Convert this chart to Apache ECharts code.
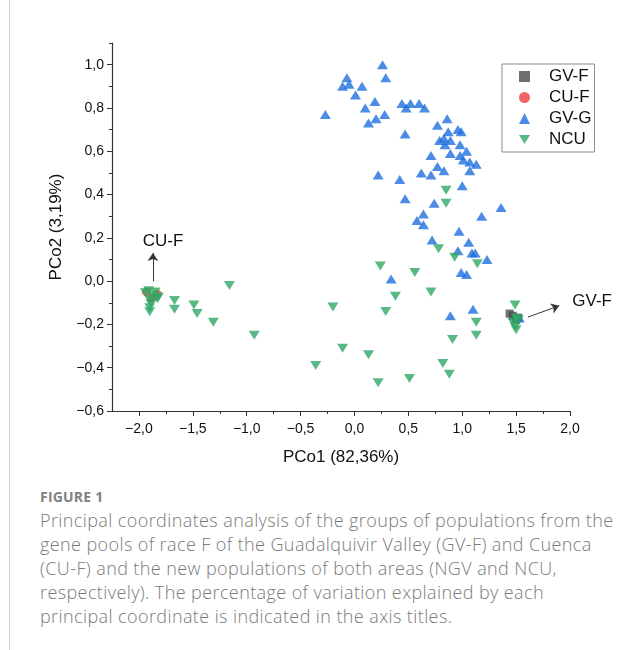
<!DOCTYPE html>
<html>
<head>
<meta charset="utf-8">
<script src="https://cdn.jsdelivr.net/npm/echarts@6/dist/echarts.min.js"></script>
<style>
  html, body { margin: 0; padding: 0; background: #fff; }
  #page { position: relative; width: 644px; height: 650px; overflow: hidden; }
  #edge { position: absolute; left: 9px; top: 0; width: 1px; height: 650px; background: #cfcfcf; }
  #chart { position: absolute; left: 0; top: 0; width: 644px; height: 480px; }
  #figlabel { position: absolute; left: 40px; top: 487px; font: bold 14px "Open Sans", sans-serif; color: #808080; letter-spacing: 0.2px; }
  #caption { position: absolute; left: 40px; top: 508px; font: 300 18px "Open Sans", sans-serif; line-height: 24px; color: #7a7a7a; white-space: nowrap; letter-spacing: 0.4px; }
</style>
</head>
<body>
<div id="page">
  <div id="edge"></div>
  <div id="chart"></div>
  <div id="figlabel">FIGURE 1</div>
  <div id="caption">Principal coordinates analysis of the groups of populations from the<br>gene pools of race F of the Guadalquivir Valley (GV-F) and Cuenca<br>(CU-F) and the new populations of both areas (NGV and NCU,<br>respectively). The percentage of variation explained by each<br>principal coordinate is indicated in the axis titles.</div>
</div>
<script>
// tick values
var xTicks = [-2.0, -1.5, -1.0, -0.5, 0.0, 0.5, 1.0, 1.5, 2.0];
var xMinor = [-1.75, -1.25, -0.75, -0.25, 0.25, 0.75, 1.25, 1.75];
var yTicks = [-0.6, -0.4, -0.2, 0.0, 0.2, 0.4, 0.6, 0.8, 1.0];
var yMinor = [-0.5, -0.3, -0.1, 0.1, 0.3, 0.5, 0.7, 0.9, 1.1];

// GV-F (squares, mostly hidden under NCU)
var gvfPoints = [[1.44, -0.15], [1.47, -0.16], [1.50, -0.18], [1.52, -0.17]];
// CU-F (circles, mostly hidden)
var cufPoints = [[-1.93, -0.05], [-1.83, -0.06], [-1.88, -0.08]];
// GV-G
var gvgPoints = [
  [0.26, 1.00], [0.29, 0.94], [-0.07, 0.94], [-0.11, 0.90], [-0.05, 0.91], [0.07, 0.90],
  [0.01, 0.86], [0.19, 0.83], [0.10, 0.80], [0.28, 0.77], [0.20, 0.75], [0.13, 0.73],
  [-0.27, 0.77], [0.44, 0.82], [0.48, 0.80], [0.52, 0.82], [0.60, 0.82], [0.65, 0.80],
  [0.47, 0.68], [0.86, 0.75], [0.77, 0.72], [0.87, 0.69], [0.96, 0.70], [0.99, 0.69],
  [0.79, 0.65], [0.83, 0.66], [0.89, 0.65], [0.84, 0.63], [0.98, 0.63], [1.04, 0.60],
  [0.89, 0.59], [0.71, 0.58], [0.98, 0.58], [1.01, 0.56], [1.07, 0.55], [1.13, 0.54],
  [1.07, 0.51], [0.77, 0.53], [0.62, 0.50], [0.71, 0.49], [0.83, 0.51], [0.22, 0.49],
  [0.42, 0.47], [1.00, 0.44], [0.47, 0.38], [0.74, 0.36], [0.64, 0.31], [0.58, 0.28],
  [0.64, 0.26], [1.18, 0.30], [1.36, 0.34], [0.97, 0.23], [0.72, 0.19], [1.06, 0.18],
  [0.96, 0.14], [1.09, 0.13], [1.12, 0.13], [1.23, 0.10], [0.99, 0.04], [1.04, 0.03],
  [0.34, 0.01], [0.89, -0.16], [1.10, -0.13], [1.53, -0.17]
];
// NCU
var ncuPoints = [
  [0.85, 0.42], [0.85, 0.36], [0.78, 0.15], [0.93, 0.11], [1.14, 0.08], [0.24, 0.07],
  [0.56, 0.04], [0.38, -0.07], [0.71, -0.05], [-0.20, -0.12], [0.29, -0.14], [1.13, -0.19],
  [1.13, -0.25], [0.91, -0.27], [-0.11, -0.31], [0.13, -0.34], [-0.36, -0.39], [0.82, -0.38],
  [0.88, -0.43], [0.22, -0.47], [0.51, -0.45],
  [-1.16, -0.02], [-1.67, -0.09], [-1.67, -0.13], [-1.49, -0.11], [-1.46, -0.15], [-1.31, -0.19],
  [-0.93, -0.25],
  [-1.91, -0.045], [-1.85, -0.05], [-1.87, -0.068], [-1.90, -0.086], [-1.83, -0.082],
  [-1.89, -0.105], [-1.90, -0.123], [-1.90, -0.142], [-1.82, -0.073], [-1.94, -0.054],
  [1.49, -0.11], [1.50, -0.17], [1.47, -0.19], [1.52, -0.18], [1.49, -0.21], [1.50, -0.225]
];

// annotations (data coords)
var arrows = [
  [[-1.87, 0.0], [-1.87, 0.13]],
  [[1.61, -0.166], [1.90, -0.114]]
];
var notes = [
  {text: 'CU-F', at: [-1.777, 0.186]},
  {text: 'GV-F', at: [2.205, -0.091]}
];

var fontName = '"Liberation Sans", Arial, sans-serif';
var downTri = 'path://M0,0L11,0L5.5,9Z';

function fmt(v) {
  return (v < -1e-9 ? '\u2212' : '') + Math.abs(v).toFixed(1).replace('.', ',');
}

var myChart = echarts.init(document.getElementById('chart'));

var axisCol = '#333';

option = {
  animation: false,
  textStyle: {fontFamily: fontName},
  grid: {left: 112, top: 43, width: 458, height: 368},
  legend: {
    left: 502,
    top: 64,
    orient: 'vertical',
    borderColor: '#8c8c8c',
    borderWidth: 1,
    padding: [4, 3, 4, 17],
    itemWidth: 11,
    itemHeight: 11,
    itemGap: 4,
    textStyle: {fontSize: 17, color: '#111', lineHeight: 17, padding: [0, 0, 0, 14]},
    data: ['GV-F', 'CU-F', 'GV-G', {name: 'NCU', icon: downTri}]
  },
  xAxis: [
    {
      type: 'value',
      min: -2.25,
      max: 2.0,
      name: 'PCo1 (82,36%)',
      nameLocation: 'middle',
      nameGap: 38,
      nameTextStyle: {fontSize: 17, color: '#111'},
      axisLine: {onZero: false, lineStyle: {color: axisCol, width: 1.2}},
      axisTick: {customValues: xTicks, length: 5, lineStyle: {color: axisCol}},
      axisLabel: {customValues: xTicks, formatter: fmt, fontSize: 14, color: '#111', margin: 11},
      splitLine: {show: false}
    },
    {
      type: 'value',
      min: -2.25,
      max: 2.0,
      position: 'bottom',
      axisLine: {show: false, onZero: false},
      axisTick: {customValues: xMinor, length: 3, lineStyle: {color: axisCol}},
      axisLabel: {show: false},
      splitLine: {show: false}
    }
  ],
  yAxis: [
    {
      type: 'value',
      min: -0.6,
      max: 1.1,
      name: 'PCo2 (3,19%)',
      nameLocation: 'middle',
      nameGap: 47,
      nameTextStyle: {fontSize: 17, color: '#111'},
      axisLine: {onZero: false, lineStyle: {color: axisCol, width: 1.2}},
      axisTick: {customValues: yTicks, length: 5, lineStyle: {color: axisCol}},
      axisLabel: {customValues: yTicks, formatter: fmt, fontSize: 14, color: '#111', margin: 8},
      splitLine: {show: false}
    },
    {
      type: 'value',
      min: -0.6,
      max: 1.1,
      position: 'left',
      axisLine: {show: false, onZero: false},
      axisTick: {customValues: yMinor, length: 3, lineStyle: {color: axisCol}},
      axisLabel: {show: false},
      splitLine: {show: false}
    }
  ],
  series: [
    {
      name: 'GV-F',
      type: 'scatter',
      symbol: 'rect',
      symbolSize: 8,
      itemStyle: {color: '#4b4b4b'},
      data: gvfPoints
    },
    {
      name: 'CU-F',
      type: 'scatter',
      symbol: 'circle',
      symbolSize: 9,
      itemStyle: {color: '#ee3e3e'},
      data: cufPoints
    },
    {
      name: 'GV-G',
      type: 'scatter',
      symbol: 'triangle',
      symbolSize: [11, 9],
      itemStyle: {color: '#1f6fdf'},
      data: gvgPoints
    },
    {
      name: 'NCU',
      type: 'scatter',
      symbol: 'triangle',
      symbolRotate: 180,
      symbolSize: [11, 9],
      itemStyle: {color: '#2fa865'},
      data: ncuPoints,
      markLine: {
        silent: true,
        symbol: ['none', 'arrow'],
        symbolSize: 8,
        label: {show: false},
        lineStyle: {color: '#333', width: 1, type: 'solid'},
        data: arrows.map(function (a) {
          return [{coord: a[0]}, {coord: a[1]}];
        })
      }
    }
  ]
};

myChart.setOption(option);

// text of the annotations, placed from data coords
var g = notes.map(function (n) {
  var p = myChart.convertToPixel({seriesIndex: 3}, n.at);
  return {
    type: 'text',
    x: p[0],
    y: p[1],
    style: {text: n.text, fontSize: 17, fontFamily: fontName, fill: '#111', align: 'center', verticalAlign: 'middle'}
  };
});
myChart.setOption({graphic: g});
</script>
</body>
</html>
